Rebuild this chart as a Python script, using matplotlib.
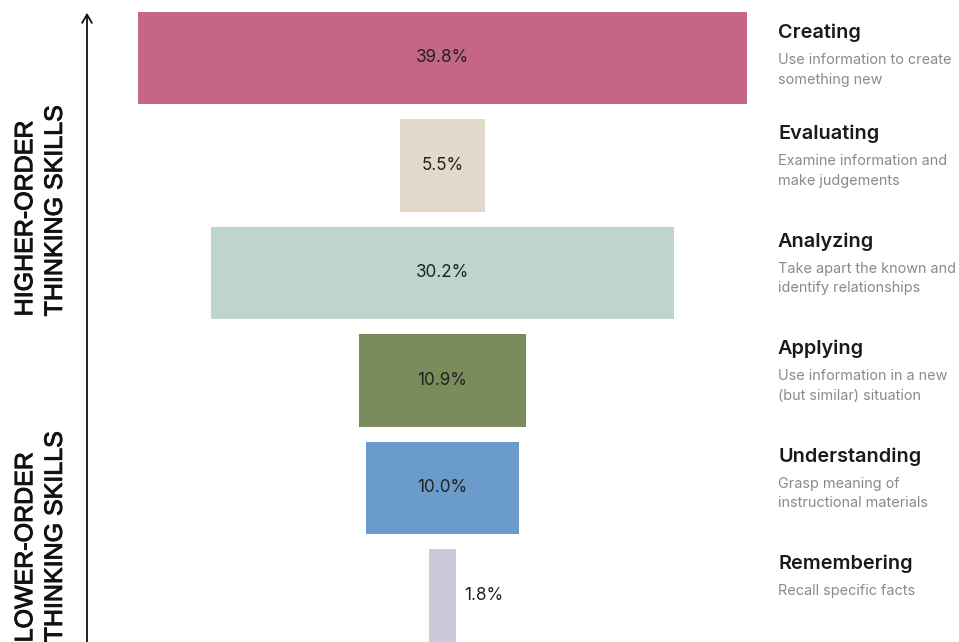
import matplotlib
matplotlib.use("Agg")
import matplotlib.pyplot as plt
import matplotlib.patheffects as pe
import numpy as np

categories = ["Creating", "Evaluating", "Analyzing", "Applying", "Understanding", "Remembering"]
values = [39.8, 5.5, 30.2, 10.9, 10.0, 1.8]
descriptions = [
    "Use information to create\nsomething new",
    "Examine information and\nmake judgements",
    "Take apart the known and\nidentify relationships",
    "Use information in a new\n(but similar) situation",
    "Grasp meaning of\ninstructional materials",
    "Recall specific facts",
]
colors = ["#C46684", "#E2D9CB", "#BDD5CD", "#7A8B5C", "#6A9BCB", "#CBCADA"]
side_labels = ["HIGHER-ORDER\nTHINKING SKILLS", "LOWER-ORDER\nTHINKING SKILLS"]

W, H = 959, 642
fig = plt.figure(figsize=(W / 100, H / 100), dpi=100)
ax = fig.add_axes([0, 0, 1, 1])
ax.axis("off")

px_per_pct = 15.3
cx = 442.5
row0 = 58.0
pitch = 107.5
ax.set_xlim(-cx / px_per_pct, (W - cx) / px_per_pct)
ax.set_ylim((H - row0) / pitch, -row0 / pitch)

def px2x(p):
    return (p - cx) / px_per_pct

def px2y(p):
    return (p - row0) / pitch

y = np.arange(len(categories))
vals = np.array(values)
ax.barh(y, vals, left=-vals / 2, height=0.86, color=colors)

fontmain = ["Inter", "DejaVu Sans"]
for i, (v, c, d) in enumerate(zip(values, categories, descriptions)):
    if v > 3:
        ax.text(0, i, f"{v:.1f}%", ha="center", va="center", fontsize=12.3,
                color="#222222", family=fontmain)
    else:
        ax.text(v / 2 + 7.5 / px_per_pct, i, f"{v:.1f}%", ha="left", va="center",
                fontsize=12.3, color="#222222", family=fontmain)
    row_px = row0 + pitch * i
    title_px = max(row_px - 31.5, 33)
    ax.text(px2x(778), px2y(title_px), c, ha="left", va="center", fontsize=14.3,
            fontweight="semibold", color="#1a1a1a", family=fontmain)
    ax.text(px2x(778), px2y(title_px + 20.5), d, ha="left", va="top", fontsize=10.4,
            color="#8a8a8a", family=fontmain, linespacing=1.5)

# arrow
ax.annotate("", xy=(px2x(87), px2y(10)), xytext=(px2x(87), px2y(H + 5)),
            arrowprops=dict(arrowstyle="->,head_length=0.6,head_width=0.35", color="#111111", lw=1.3))

lab_font = ["Liberation Sans", "DejaVu Sans"]
heavy = [pe.withStroke(linewidth=0.7, foreground="#111111")]
ax.text(px2x(40), px2y(211), side_labels[0], rotation=90, ha="center",
        va="center", fontsize=18, color="#111111", family=lab_font,
        linespacing=1.3, multialignment="left", path_effects=heavy)
ax.text(px2x(40), px2y(537), side_labels[1], rotation=90, ha="center",
        va="center", fontsize=18, color="#111111", family=lab_font,
        linespacing=1.3, multialignment="left", path_effects=heavy)

fig.savefig("out.png", dpi=100)
